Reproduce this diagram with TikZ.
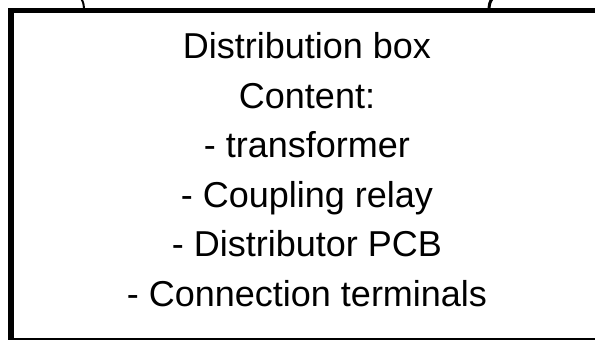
\documentclass[tikz,border=0pt]{standalone}
\usepackage{fontspec}
\setmainfont{Liberation Sans}
\begin{document}
\begin{tikzpicture}[x=1pt,y=-1pt,
  boxline/.style={line width=5.5pt,line join=miter},
  stub/.style={line width=2.5pt},
  label/.style={font=\fontsize{36}{49.5}\selectfont,inner sep=0pt,align=center,anchor=base}]
\useasboundingbox[fill=white] (0,0) rectangle (595,340);
\clip (0,0) rectangle (595,340);
\coordinate (tl) at (11,10.5);
\coordinate (br) at (604,341);
\draw[boxline] (tl) rectangle (br);
\coordinate (l0) at (84,9);
\coordinate (l1) at (81,-2);
\coordinate (r0) at (489,9);
\coordinate (r1) at (492.5,-2);
\draw[stub,line width=2pt] (l0) .. controls (83.5,3) .. (l1);
\draw[stub,line width=3pt] (r0) .. controls (489.5,3) .. (r1);
\node[label] (t1) at (307,58.5) {Distribution box};
\node[label] (t2) at (307,108) {Content:};
\node[label] (t3) at (307,157.5) {- transformer};
\node[label] (t4) at (307,207) {- Coupling relay};
\node[label] (t5) at (307,256.5) {- Distributor PCB};
\node[label] (t6) at (307,306) {- Connection terminals};
\end{tikzpicture}
\end{document}
